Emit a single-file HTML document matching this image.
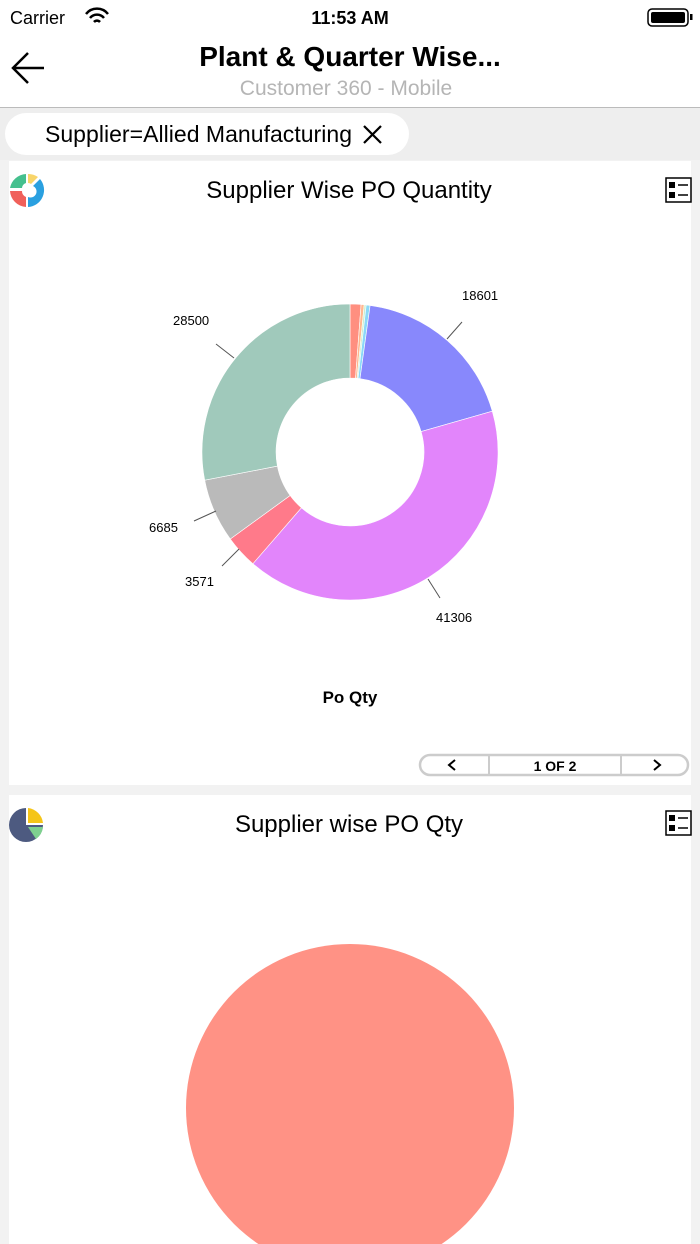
<!DOCTYPE html>
<html><head><style>
body{margin:0;width:700px;height:1244px;overflow:hidden;background:#f2f2f2;font-family:"Liberation Sans",sans-serif;}
</style></head><body>
<svg width="700" height="1244" xmlns="http://www.w3.org/2000/svg" style="display:block">
<rect x="0" y="0" width="700" height="108" fill="#fff"/>
<text x="10" y="24" font-size="18" fill="#000">Carrier</text>
<path d="M86 14 a14 14 0 0 1 22 0 M90 18 a9 9 0 0 1 14 0 M94 22 a4 4 0 0 1 6 0" stroke="#000" stroke-width="2.5" fill="none"/>
<text x="350" y="24" font-size="18" font-weight="bold" text-anchor="middle">11:53 AM</text>
<rect x="648" y="9" width="40" height="17" rx="4" fill="none" stroke="#000" stroke-width="1.5"/>
<rect x="651" y="12" width="34" height="11" rx="2" fill="#000"/>
<rect x="690" y="14" width="2.5" height="6" fill="#000"/>
<path d="M44 68 H13 M28 53 L13 68 L28 83" stroke="#000" stroke-width="2.5" fill="none"/>
<text x="350" y="66" font-size="28" font-weight="bold" text-anchor="middle">Plant &amp; Quarter Wise...</text>
<text x="346" y="95" font-size="21" fill="#b5b5b5" text-anchor="middle">Customer 360 - Mobile</text>
<rect x="0" y="107" width="700" height="1" fill="#bbb"/>
<rect x="0" y="108" width="700" height="52" fill="#eeeeee"/>
<rect x="5" y="113" width="404" height="42" rx="21" fill="#fff"/>
<text x="45" y="142" font-size="23" fill="#000" textLength="307">Supplier=Allied Manufacturing</text>
<path d="M364 126 L381 143 M381 126 L364 143" stroke="#000" stroke-width="2.2"/>
<rect x="9" y="161" width="682" height="624" fill="#fff"/>
<path d="M26 174 A17 17 0 0 0 10 188 L22 188 A6 6 0 0 1 26 183Z" fill="#45c08e"/>
<path d="M28 174 A17 17 0 0 1 38 177 L31 184 A6 6 0 0 0 28 183Z" fill="#f8d56a"/>
<path d="M40 179 A17 17 0 0 1 28 207 L28 197 A6 6 0 0 0 33 186Z" fill="#2aa0e0"/>
<path d="M10 191 A17 17 0 0 0 26 207 L26 197 A6 6 0 0 1 22 191Z" fill="#f0605a"/>
<text x="349" y="198" font-size="24" text-anchor="middle">Supplier Wise PO Quantity</text>
<rect x="666" y="178" width="25" height="24" fill="#fff" stroke="#000" stroke-width="1.5"/>
<rect x="669" y="182" width="6" height="6" fill="#000"/><rect x="669" y="192" width="6" height="6" fill="#000"/>
<path d="M678 185 H688 M678 195 H688" stroke="#000" stroke-width="1.5"/>
<g stroke="#fff" stroke-width="0.6">
<path d="M350 304 A148 148 0 0 1 361.1 304.4 L355.5 378.2 A74 74 0 0 0 350 378Z" fill="#ff8f80"/>
<path d="M361.1 304.4 A148 148 0 0 1 364.2 304.7 L357.1 378.3 A74 74 0 0 0 355.5 378.2Z" fill="#ffb890"/>
<path d="M364.2 304.7 A148 148 0 0 1 366.2 304.9 L358.1 378.4 A74 74 0 0 0 357.1 378.3Z" fill="#c8f0d0"/>
<path d="M366.2 304.9 A148 148 0 0 1 370.1 305.4 L360 378.7 A74 74 0 0 0 358.1 378.4Z" fill="#8ad8f8"/>
<path d="M370.1 305.4 A148 148 0 0 1 492.3 411.2 L421.1 431.6 A74 74 0 0 0 360 378.7Z" fill="#8888fc"/>
<path d="M492.3 411.2 A148 148 0 0 1 252.9 563.7 L301.4 507.8 A74 74 0 0 0 421.1 431.6Z" fill="#e285fb"/>
<path d="M252.9 563.7 A148 148 0 0 1 230.3 539 L290.1 495.5 A74 74 0 0 0 301.4 507.8Z" fill="#ff7a8a"/>
<path d="M230.3 539 A148 148 0 0 1 204.7 480.2 L277.4 466.1 A74 74 0 0 0 290.1 495.5Z" fill="#bababa"/>
<path d="M204.7 480.2 A148 148 0 0 1 350 304 L350 378 A74 74 0 0 0 277.4 466.1Z" fill="#a0c9bb"/>
</g>
<g stroke="#555" stroke-width="1">
<path d="M447 339 L462 322"/><path d="M216 344 L234 358"/><path d="M194 521 L216 511"/><path d="M222 566 L239 549"/><path d="M440 598 L428 579"/>
</g>
<g font-size="13" fill="#000">
<text x="462" y="300">18601</text><text x="173" y="325">28500</text><text x="149" y="532">6685</text><text x="185" y="586">3571</text><text x="436" y="622">41306</text>
</g>
<text x="350" y="703" font-size="17" font-weight="bold" text-anchor="middle">Po Qty</text>
<rect x="420" y="755" width="268" height="20" rx="10" fill="#fff" stroke="#ccc" stroke-width="2.5"/>
<path d="M489 755 V775 M621 755 V775" stroke="#ccc" stroke-width="2"/>
<path d="M455 760 L449 765 L455 770 M654 760 L660 765 L654 770" stroke="#000" stroke-width="2" fill="none"/>
<text x="555" y="771" font-size="14" font-weight="bold" text-anchor="middle">1 OF 2</text>
<rect x="9" y="795" width="682" height="449" fill="#fff"/>
<path d="M26 808 A17 17 0 1 0 43 825 L26 825Z" fill="#4d5a80"/>
<path d="M28 808 A17 17 0 0 1 43 823 L28 823Z" fill="#f5c518"/>
<path d="M43 827 A17 17 0 0 1 36 839 L28 827Z" fill="#7ed08f"/>
<text x="349" y="832" font-size="24" text-anchor="middle">Supplier wise PO Qty</text>
<rect x="666" y="811" width="25" height="24" fill="#fff" stroke="#000" stroke-width="1.5"/>
<rect x="669" y="815" width="6" height="6" fill="#000"/><rect x="669" y="825" width="6" height="6" fill="#000"/>
<path d="M678 818 H688 M678 828 H688" stroke="#000" stroke-width="1.5"/>
<circle cx="350" cy="1108" r="164" fill="#ff9285"/>
</svg>
</body></html>
